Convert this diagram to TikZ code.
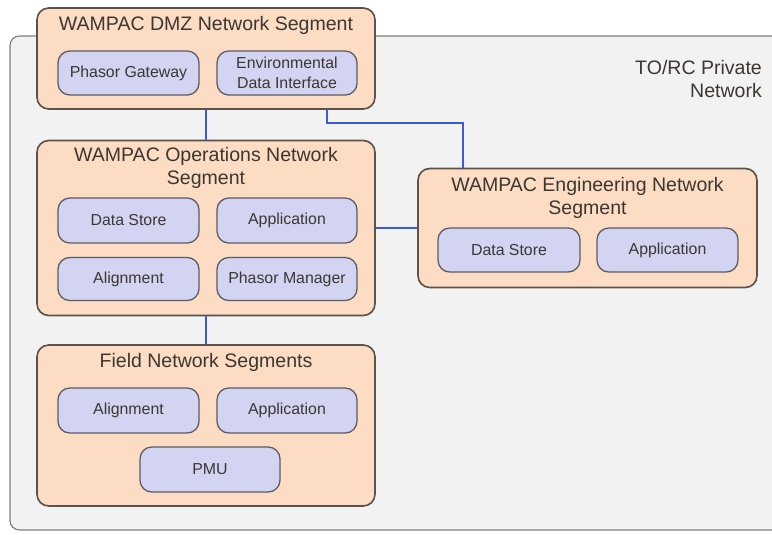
\documentclass[tikz,border=0pt]{standalone}
\usepackage{fontspec}
\setmainfont{Liberation Sans}
\usepackage{tikz}
\usetikzlibrary{calc}

\definecolor{netfill}{HTML}{F2F2F2}
\definecolor{netline}{HTML}{808080}
\definecolor{segfill}{HTML}{FCDCC2}
\definecolor{segline}{HTML}{5A524B}
\definecolor{compfill}{HTML}{D3D3F2}
\definecolor{compline}{HTML}{5C5C66}
\definecolor{linkblue}{HTML}{3A5CD8}
\definecolor{textdark}{HTML}{3C3732}

\begin{document}
\begin{tikzpicture}[x=0.85pt, y=-0.85pt,
	segment/.style={draw=segline, fill=segfill, line width=1.4pt,
		rounded corners=10pt, rectangle, inner sep=0pt},
	comp/.style={draw=compline, fill=compfill, line width=1.1pt,
		rounded corners=10pt, rectangle, inner sep=0pt, align=center,
		text=textdark, font=\fontsize{13.5}{17}\selectfont},
	segtitle/.style={text=textdark, align=center,
		font=\fontsize{16.6}{19.5}\selectfont},
	link/.style={draw=linkblue, line width=2pt}]
	\def \px {0.85pt}

	\clip (0,0) rectangle (772,534);
	\useasboundingbox (0,0) rectangle (772,534);

	% private network area
	\node[draw=netline, fill=netfill, line width=1pt, rounded corners=8pt,
		rectangle, minimum width={790*\px}, minimum height={494*\px}]
		(private) at (405,283) {};
	\node[segtitle, align=right, anchor=east] (privatelabel) at (766,79)
		{TO/RC Private\\Network};

	% segments
	\node[segment, minimum width={338*\px}, minimum height={101*\px}]
		(dmz) at (206,58.5) {};
	\node[segment, minimum width={338*\px}, minimum height={175*\px}]
		(ops) at (206,228) {};
	\node[segment, minimum width={338*\px}, minimum height={161*\px}]
		(field) at (206,425.5) {};
	\node[segment, minimum width={339*\px}, minimum height={119*\px}]
		(eng) at (587.5,228) {};

	\node[segtitle] (dmztitle)   at (206,25)    {WAMPAC DMZ Network Segment};
	\node[segtitle] (opstitle)   at (206,168)   {WAMPAC Operations Network\\Segment};
	\node[segtitle] (fieldtitle) at (206,362)   {Field Network Segments};
	\node[segtitle] (engtitle)   at (587.5,198) {WAMPAC Engineering Network\\Segment};

	% components
	\node[comp, minimum width={141*\px}, minimum height={44*\px}]
		(gateway) at (128.5,73) {Phasor Gateway};
	\node[comp, minimum width={140*\px}, minimum height={44*\px}]
		(envdata) at (287,73) {Environmental\\Data Interface};

	\node[comp, minimum width={141*\px}, minimum height={45*\px}]
		(opsstore) at (128.5,220.5) {Data Store};
	\node[comp, minimum width={140*\px}, minimum height={45*\px}]
		(opsapp) at (287,220.5) {Application};
	\node[comp, minimum width={141*\px}, minimum height={43*\px}]
		(opsalign) at (128.5,279) {Alignment};
	\node[comp, minimum width={140*\px}, minimum height={43*\px}]
		(manager) at (287,279) {Phasor Manager};

	\node[comp, minimum width={141*\px}, minimum height={45*\px}]
		(fieldalign) at (128.5,410.5) {Alignment};
	\node[comp, minimum width={140*\px}, minimum height={45*\px}]
		(fieldapp) at (287,410.5) {Application};
	\node[comp, minimum width={140*\px}, minimum height={45*\px}]
		(pmu) at (210,469.5) {PMU};

	\node[comp, minimum width={142*\px}, minimum height={44*\px}]
		(engstore) at (509,250) {Data Store};
	\node[comp, minimum width={141*\px}, minimum height={44*\px}]
		(engapp) at (667.5,250) {Application};

	% links
	\coordinate (dmzout) at (327,109);
	\coordinate (bend) at (463,123);

	\draw[link] (dmz) -- (ops);
	\draw[link] (ops) -- (field);
	\draw[link] (ops.east) -- (eng.west);
	\draw[link] (dmzout) |- (bend) -- (bend |- eng.north);
\end{tikzpicture}
\end{document}
